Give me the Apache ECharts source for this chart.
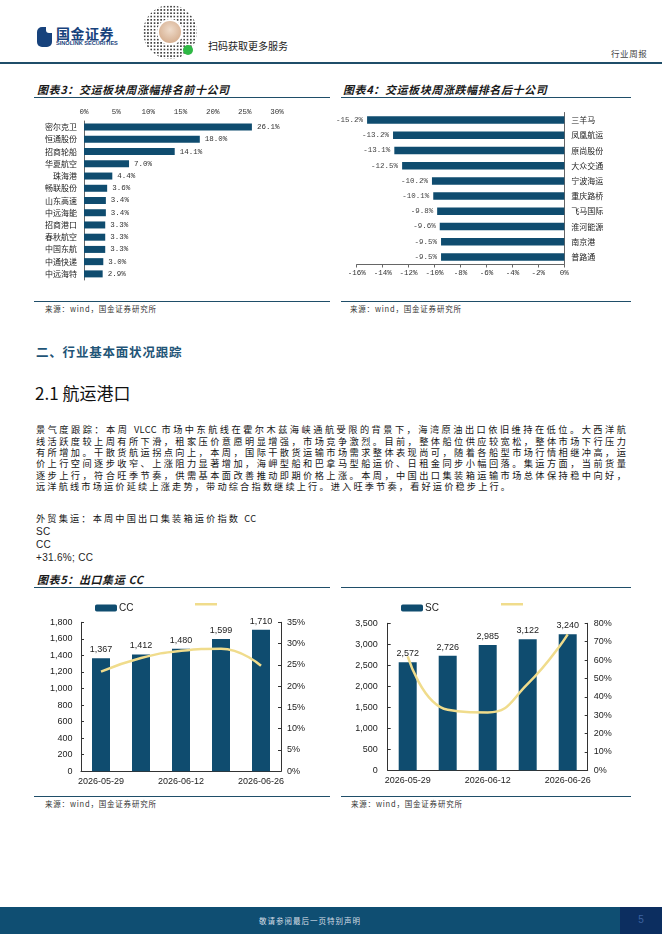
<!DOCTYPE html>
<html>
<head>
<meta charset="utf-8">
<script src="https://cdn.jsdelivr.net/npm/echarts/dist/echarts.min.js"></script>
<style>
  html, body { margin:0; padding:0; background:#fff; }
  body { width:662px; height:936px; position:relative; overflow:hidden; font-family:"Noto Sans CJK SC", "Liberation Sans", sans-serif; color:#222; }
  .abs { position:absolute; }
  .rule { position:absolute; background:#1f4e69; }
  .title { position:absolute; font-size:11px; font-weight:bold; font-style:italic; color:#1a1a1a; line-height:14px; letter-spacing:0.6px; white-space:nowrap; }
  .src { position:absolute; font-size:7.5px; color:#333; letter-spacing:0.8px; line-height:10px; white-space:nowrap; }
  .para { position:absolute; font-size:9.2px; letter-spacing:2.15px; line-height:11.3px; color:#151515; }
  .para .j { text-align:justify; text-align-last:justify; }
  .lat { letter-spacing:0.4px; }
  .chart { position:absolute; }
</style>
</head>
<body>
<script>
// ---------- data ----------
const topNames = ['密尔克卫','恒通股份','招商轮船','华夏航空','珠海港','畅联股份','山东高速','中远海能','招商港口','春秋航空','中国东航','中通快递','中远海特'];
const topValues = [26.1, 18.0, 14.1, 7.0, 4.4, 3.6, 3.4, 3.4, 3.3, 3.3, 3.3, 3.0, 2.9];
const bottomNames = ['三羊马','凤凰航运','原尚股份','大众交通','宁波海运','重庆路桥','飞马国际','淮河能源','南京港','普路通'];
const bottomValues = [-15.2, -13.2, -13.1, -12.5, -10.2, -10.1, -9.8, -9.6, -9.5, -9.5];
const weekDates = ['2026-05-29','2026-06-05','2026-06-12','2026-06-19','2026-06-26'];
const ccIndex = [1367, 1412, 1480, 1599, 1710];
const ccChange = [23.4, 26.6, 28.3, 28.8, 24.8];
const scIndex = [2572, 2726, 2985, 3122, 3240];
const scChange = [62, 33, 31.5, 47, 74];
</script>

<!-- header -->
<div class="abs" style="left:37px;top:27px;width:15px;height:20px;background:#17427c;border-radius:5px 2px 5px 5px;"></div>
<div class="abs" style="left:46px;top:27px;width:6px;height:6px;background:#fff;border-radius:0 0 0 3px;"></div>
<div class="abs" style="left:56px;top:25px;font-size:14px;font-weight:bold;color:#17427c;line-height:16px;letter-spacing:0.5px;white-space:nowrap;">国金证券</div>
<div class="abs" style="left:56px;top:40px;font-size:5.6px;font-weight:bold;color:#17427c;line-height:7px;font-family:'Liberation Sans',sans-serif;white-space:nowrap;">SINOLINK SECURITIES</div>
<div class="abs" style="left:143px;top:5px;width:54px;height:54px;border-radius:50%;background-image:radial-gradient(circle, #444 0.9px, transparent 1.2px);background-size:3.3px 3.3px;"></div>
<div class="abs" style="left:157px;top:19px;width:26px;height:26px;border-radius:50%;background:#fff;"></div>
<div class="abs" style="left:159px;top:21px;width:22px;height:22px;border-radius:50%;background:radial-gradient(circle at 50% 40%, #efdccb, #cfa27f);"></div>
<div class="abs" style="left:183px;top:45px;width:10px;height:10px;border-radius:50%;background:#2fb845;"></div>
<div class="abs" style="left:208px;top:40px;font-size:10px;color:#222;line-height:12px;white-space:nowrap;">扫码获取更多服务</div>
<div class="abs" style="left:611px;top:48px;font-size:8.5px;color:#444;line-height:11px;letter-spacing:0.6px;white-space:nowrap;">行业周报</div>
<div class="rule" style="left:0;top:62px;width:662px;height:1.5px;"></div>

<!-- chart 3/4 titles -->
<div class="title" style="left:37px;top:82px;">图表3：交运板块周涨幅排名前十公司</div>
<div class="rule" style="left:34px;top:97px;width:296px;height:1.3px;"></div>
<div class="title" style="left:343px;top:82px;">图表4：交运板块周涨跌幅排名后十公司</div>
<div class="rule" style="left:341px;top:97px;width:290px;height:1.3px;"></div>

<div id="c3" class="chart" style="left:0;top:100px;width:331px;height:196px;"></div>
<div id="c4" class="chart" style="left:331px;top:100px;width:331px;height:196px;"></div>

<div class="rule" style="left:34px;top:301px;width:296px;height:1px;"></div>
<div class="src" style="left:45px;top:304px;">来源：wind，国金证券研究所</div>
<div class="rule" style="left:341px;top:301px;width:290px;height:1px;"></div>
<div class="src" style="left:350px;top:304px;">来源：wind，国金证券研究所</div>

<!-- section -->
<div class="abs" style="left:36px;top:344px;font-size:12.5px;font-weight:bold;color:#1f5577;line-height:16px;letter-spacing:0.8px;white-space:nowrap;">二、行业基本面状况跟踪</div>
<div class="abs" style="left:35px;top:382px;font-size:17px;color:#111;line-height:22px;white-space:nowrap;">2.1 航运港口</div>

<div class="para" style="left:36px;top:424.4px;width:592px;">
  <div class="j">景气度跟踪：本周 <span class="lat">VLCC</span> 市场中东航线在霍尔木兹海峡通航受限的背景下，海湾原油出口依旧维持在低位。大西洋航</div>
  <div class="j">线活跃度较上周有所下滑，租家压价意愿明显增强，市场竞争激烈。目前，整体船位供应较宽松，整体市场下行压力</div>
  <div class="j">有所增加。干散货航运拐点向上，本周，国际干散货运输市场需求整体表现尚可，随着各船型市场行情相继冲高，运</div>
  <div class="j">价上行空间逐步收窄、上涨阻力显著增加，海岬型船和巴拿马型船运价、日租金同步小幅回落。集运方面，当前货量</div>
  <div class="j">逐步上行，符合旺季节奏，供需基本面改善推动即期价格上涨。本周，中国出口集装箱运输市场总体保持稳中向好，</div>
  <div>远洋航线市场运价延续上涨走势，带动综合指数继续上行。进入旺季节奏，看好运价稳步上行。</div>
</div>
<div class="para" style="left:36px;top:512.6px;width:592px;white-space:nowrap;">外贸集运：本周中国出口集装箱运价指数 <span class="lat">CC</span></div>
<div class="abs" style="left:36px;top:524.5px;font-size:10px;line-height:13px;font-family:'Liberation Sans',sans-serif;color:#222;letter-spacing:0.3px;white-space:nowrap;">SC<br>CC<br>+31.6%; CC</div>

<!-- chart 5 -->
<div class="title" style="left:37px;top:572px;">图表5：出口集运 CC</div>
<div class="rule" style="left:34px;top:587px;width:296px;height:1.3px;"></div>
<div class="rule" style="left:341px;top:587px;width:290px;height:1.3px;"></div>

<div id="c5a" class="chart" style="left:0;top:595px;width:331px;height:198px;"></div>
<div id="c5b" class="chart" style="left:331px;top:595px;width:331px;height:198px;"></div>

<div class="rule" style="left:34px;top:796px;width:296px;height:1px;"></div>
<div class="src" style="left:45px;top:799px;">来源：wind，国金证券研究所</div>
<div class="rule" style="left:341px;top:796px;width:290px;height:1px;"></div>
<div class="src" style="left:351px;top:799px;">来源：wind，国金证券研究所</div>

<!-- footer -->
<div class="abs" style="left:0;top:907px;width:620px;height:27px;background:#0f4e72;"></div>
<div class="abs" style="left:620px;top:907px;width:42px;height:27px;background:#0c2e60;"></div>
<div class="abs" style="left:0;top:915px;width:620px;text-align:center;font-size:7.5px;letter-spacing:1px;color:#d5dee6;line-height:12px;">敬请参阅最后一页特别声明</div>
<div class="abs" style="left:620px;top:913px;width:42px;text-align:center;font-size:10px;color:#3c63a0;line-height:14px;font-family:'Liberation Sans',sans-serif;">5</div>

<script>
const barColor = '#0f4c6f';
const lineColor = '#f0dc8c';
const mono = '"Liberation Mono", "Noto Sans CJK SC", monospace';
const cjk = '"Noto Sans CJK SC", sans-serif';
const sans = '"Liberation Sans", Arial, sans-serif';
const axisGray = '#666';

function gridOf(o) { return Object.assign({ containLabel:false, outerBoundsMode:'none' }, o); }

// Chart 3: top ten gainers
echarts.init(document.getElementById('c3'), null, {renderer:'canvas'}).setOption({
  animation:false,
  grid: gridOf({ left:84, top:21, width:193, height:159 }),
  xAxis: {
    type:'value', position:'top', min:0, max:30, interval:5,
    axisLine:{show:false}, axisTick:{show:false}, splitLine:{show:false},
    axisLabel:{ formatter:'{value}%', fontFamily:mono, fontSize:7.5, color:'#333', margin:5 }
  },
  yAxis: {
    type:'category', inverse:true, data:topNames,
    axisLine:{ lineStyle:{ color:axisGray, width:1 } },
    axisTick:{ length:3, lineStyle:{ color:axisGray } },
    axisLabel:{ interval:0, fontFamily:cjk, fontSize:8, color:'#222', margin:7 }
  },
  series: [{
    type:'bar', data:topValues, barWidth:7,
    itemStyle:{ color:barColor },
    label:{ show:true, position:'right', distance:5, fontFamily:mono, fontSize:7.5, color:'#333',
      formatter: p => p.value.toFixed(1) + '%' }
  }]
});

// Chart 4: bottom ten
echarts.init(document.getElementById('c4'), null, {renderer:'canvas'}).setOption({
  animation:false,
  grid: gridOf({ left:25.7, top:12.5, width:207.6, height:152 }),
  xAxis: {
    type:'value', position:'bottom', min:-16, max:0, interval:2,
    axisLine:{ show:true, lineStyle:{ color:axisGray } },
    axisTick:{ show:true, length:3, lineStyle:{ color:axisGray } },
    splitLine:{show:false},
    axisLabel:{ formatter:'{value}%', fontFamily:mono, fontSize:7.5, color:'#333', margin:5 }
  },
  yAxis: {
    type:'category', inverse:true, position:'right', data:bottomNames,
    axisLine:{ onZero:false, lineStyle:{ color:axisGray } },
    axisTick:{ length:3, lineStyle:{ color:axisGray } },
    axisLabel:{ interval:0, fontFamily:cjk, fontSize:8, color:'#222', margin:7 }
  },
  series: [{
    type:'bar', data:bottomValues, barWidth:7.5,
    itemStyle:{ color:barColor },
    label:{ show:true, position:'left', distance:4, fontFamily:mono, fontSize:7.5, color:'#444',
      formatter: p => p.value.toFixed(1) + '%' }
  }]
});

function comboOption(cfg) {
  return {
    animation:false,
    grid: gridOf(cfg.grid),
    legend: [
      { left:cfg.leg1, top:8, padding:0, orient:'horizontal', data:[{name:cfg.name, icon:'roundRect'}],
        itemWidth:22, itemHeight:7, textStyle:{ fontFamily:sans, fontSize:10, color:'#222', padding:[0,0,0,-3] } },
      { left:cfg.leg2, top:8, padding:0, orient:'horizontal', data:[{name:cfg.name + ' 涨幅', icon:'rect'}],
        itemWidth:22, itemHeight:2.5, itemStyle:{ color:lineColor },
        formatter: () => '', textStyle:{ fontFamily:sans, fontSize:10 } }
    ],
    xAxis: {
      type:'category', data:weekDates,
      axisLine:{ lineStyle:{ color:'#333' } },
      axisTick:{ length:3, lineStyle:{ color:'#333' } },
      axisLabel:{ interval:1, fontFamily:sans, fontSize:9, color:'#222', margin:6 }
    },
    yAxis: [
      { type:'value', min:0, max:cfg.leftMax, interval:cfg.leftInterval,
        axisLine:{ show:true, lineStyle:{ color:'#333' } },
        axisTick:{ show:true, inside:true, length:3, lineStyle:{ color:'#333' } },
        splitLine:{ show:false },
        axisLabel:{ fontFamily:sans, fontSize:9, color:'#222', margin:cfg.leftMargin,
          formatter: v => v.toLocaleString('en-US') } },
      { type:'value', position:'right', min:0, max:cfg.rightMax, interval:cfg.rightInterval,
        axisLine:{ show:true, lineStyle:{ color:'#333' } },
        axisTick:{ show:true, inside:true, length:3, lineStyle:{ color:'#333' } },
        splitLine:{ show:false },
        axisLabel:{ fontFamily:sans, fontSize:9, color:'#222', margin:6, formatter:'{value}%' } }
    ],
    series: [
      { name:cfg.name, type:'bar', data:cfg.bars, barWidth:18, itemStyle:{ color:barColor },
        label:{ show:true, position:'top', distance:4, fontFamily:sans, fontSize:9, color:'#222',
          formatter: p => p.value.toLocaleString('en-US') } },
      { name:cfg.name + ' 涨幅', type:'line', yAxisIndex:1, data:cfg.line, smooth:0.5,
        showSymbol:false, symbol:'none',
        lineStyle:{ color:lineColor, width:2.5 }, itemStyle:{ color:lineColor } }
    ]
  };
}

echarts.init(document.getElementById('c5a'), null, {renderer:'canvas'}).setOption(comboOption({
  grid:{ left:81, top:27.3, width:200, height:149 },
  leg1:95, leg2:195, name:'CC',
  leftMax:1800, leftInterval:200, leftMargin:8.5,
  rightMax:35, rightInterval:5,
  bars:ccIndex, line:ccChange
}));

echarts.init(document.getElementById('c5b'), null, {renderer:'canvas'}).setOption(comboOption({
  grid:{ left:56.7, top:28.3, width:200, height:147 },
  leg1:70, leg2:170, name:'SC',
  leftMax:3500, leftInterval:500, leftMargin:10,
  rightMax:80, rightInterval:10,
  bars:scIndex, line:scChange
}));
</script>
</body>
</html>
